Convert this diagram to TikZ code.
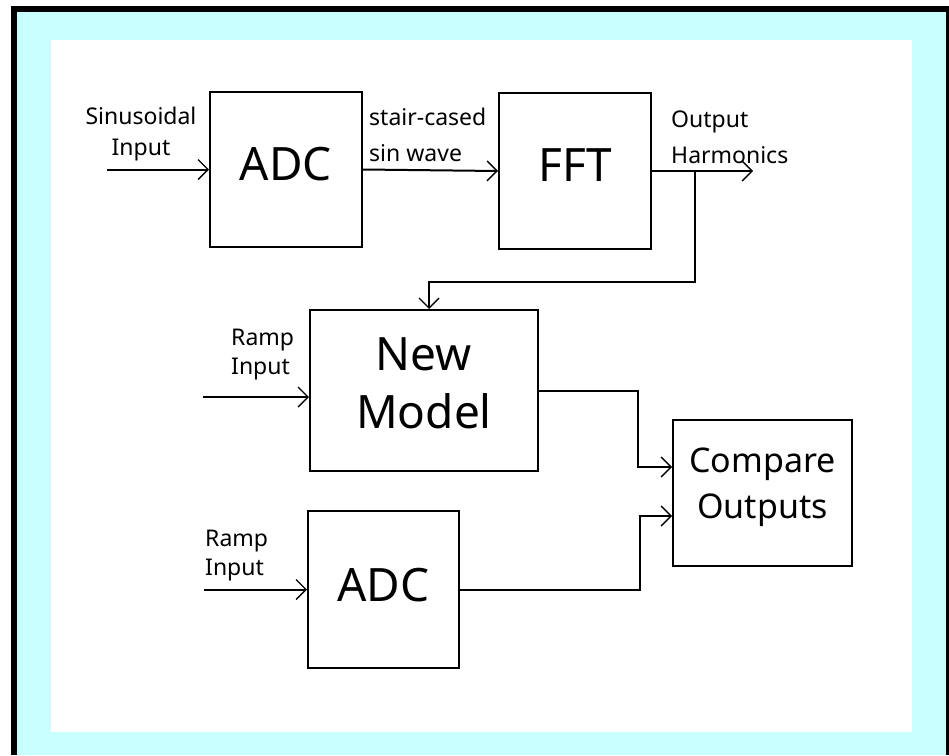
\documentclass[tikz,border=0pt]{standalone}
\usepackage{fontspec}
\setmainfont{Noto Sans}
\usetikzlibrary{arrows.meta}
\definecolor{framecyan}{RGB}{200,255,255}

\tikzstyle{block} = [rectangle, draw, line width=2pt, fill=white, inner sep=0pt]
\tikzstyle{big} = [font=\fontsize{46}{58}\selectfont, align=center, text depth=12pt]
\tikzstyle{tag} = [inner sep=0pt, font=\fontsize{23}{31}\selectfont]
\tikzstyle{wire} = [line width=2pt, -{Straight Barb[length=10pt,width=20pt,line width=1.4pt]}]

\begin{document}
\begin{tikzpicture}[x=1pt, y=-1pt]
    \useasboundingbox (0,0) rectangle (949,755);
    % Frame
    \fill[black] (11,6) rectangle (949,755);
    \fill[framecyan] (17,12) rectangle (946,755);
    \fill[white] (51,40) rectangle (912,732);
    % Nodes
    \node[block, big, minimum width=152pt, minimum height=155pt] (adc) at (286, 169.5) {ADC};
    \node[block, big, minimum width=152pt, minimum height=156pt] (fft) at (575, 171) {FFT};
    \node[block, big, text depth=14pt, minimum width=228pt, minimum height=161pt] (model) at (424, 390.5) {New\\Model};
    \node[block, font=\fontsize{34}{46}\selectfont, align=center, text depth=20pt, minimum width=179pt, minimum height=146pt] (cmp) at (762.5, 493) {Compare\\Outputs};
    \node[block, big, text depth=10pt, minimum width=151pt, minimum height=157pt] (adcb) at (383.5, 589.5) {ADC};
    \coordinate (sin) at (107, 169.5);
    \coordinate (harm) at (753, 171);
    \coordinate (tap) at (695, 171);
    \coordinate (turn) at (429, 282);
    \coordinate (rampa) at (203, 397);
    \coordinate (rampb) at (204, 589.5);
    \coordinate (cina) at ([yshift=26pt]cmp.west);
    \coordinate (cinb) at ([yshift=-23pt]cmp.west);
    % Edges
    \draw[wire] (sin) -- (adc.west);
    \draw[wire] (adc.east) -- (fft.west);
    \draw[wire] (fft.east) -- (harm);
    \draw[wire] (tap) |- (turn) -- (turn |- model.north);
    \draw[wire] (rampa) -- (rampa -| model.west);
    \draw[wire] (rampb) -- (adcb.west);
    \draw[wire] (model.east) -- ++(99,0) |- (cina);
    \draw[wire] (adcb.east) -- ++(180,0) |- (cinb);
    % Labels
    \node[tag, align=center] (lsin) at (141, 134) {Sinusoidal\\Input};
    \node[tag, align=left, anchor=west, font=\fontsize{23}{36}\selectfont] (lstair) at (369, 135) {stair-cased\\sin wave};
    \node[tag, align=left, anchor=west, font=\fontsize{23}{36}\selectfont] (lharm) at (671, 137) {Output\\Harmonics};
    \node[tag, align=left, anchor=west, font=\fontsize{23}{29}\selectfont] (lrampa) at (231, 355) {Ramp\\Input};
    \node[tag, align=left, anchor=west, font=\fontsize{23}{29}\selectfont] (lrampb) at (205, 556) {Ramp\\Input};
\end{tikzpicture}
\end{document}
